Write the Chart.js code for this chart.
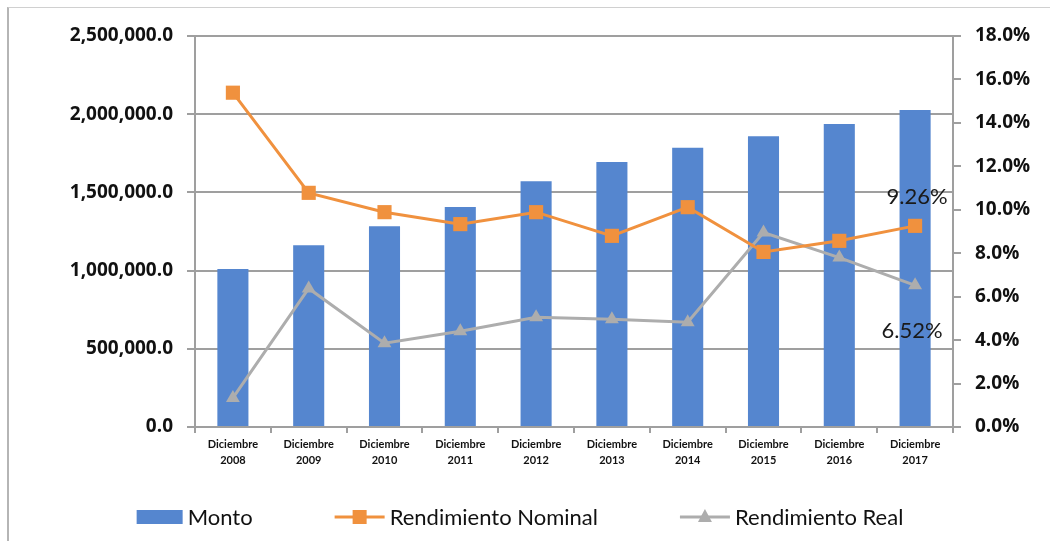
<!DOCTYPE html>
<html lang="es">
  <head>
    <meta charset="UTF-8" />
    <title>Monto y Rendimiento</title>
    <style>
      html, body {
        margin: 0;
        padding: 0;
        background: #fff;
      }
      #wrap {
        position: relative;
        width: 1050px;
        height: 541px;
      }
      #frame {
        position: absolute;
        left: 7px;
        top: 7px;
        width: 1060px;
        height: 560px;
        border-left: 2px solid #b5b5b5;
        border-top: 1.5px solid #d0d0d0;
        pointer-events: none;
      }
      canvas {
        position: absolute;
        left: 0;
        top: 0;
      }
    </style>
  </head>
  <body>
    <div id="wrap">
      <canvas id="chart" width="1050" height="541"></canvas>
      <div id="frame"></div>
    </div>

    <script src="https://cdn.jsdelivr.net/npm/chart.js"></script>
    <script>
      const categories = [
        ["Diciembre", "2008"], ["Diciembre", "2009"], ["Diciembre", "2010"],
        ["Diciembre", "2011"], ["Diciembre", "2012"], ["Diciembre", "2013"],
        ["Diciembre", "2014"], ["Diciembre", "2015"], ["Diciembre", "2016"],
        ["Diciembre", "2017"],
      ];
      const monto = [1010000, 1162000, 1283000, 1406000, 1571000, 1694000, 1785000, 1859000, 1938000, 2027000];
      const nominal = [15.39, 10.78, 9.89, 9.34, 9.89, 8.8, 10.12, 8.06, 8.57, 9.26];
      const real = [1.34, 6.38, 3.86, 4.41, 5.05, 4.96, 4.82, 8.95, 7.8, 6.52];
      const leftTicks = [0, 500000, 1000000, 1500000, 2000000, 2500000];
      const rightTicks = [0, 2, 4, 6, 8, 10, 12, 14, 16, 18];

      const BLUE = "#5586cf";
      const ORANGE = "#f0913e";
      const GRAY = "#adadad";
      const AXIS = "#9f9f9f";
      const FONT = "Lato, 'Open Sans', sans-serif";
      const TICKFONT = "'Open Sans', Lato, sans-serif";

      // labels on last points (9.26% / 6.52%)
      const endLabels = {
        id: "endLabels",
        afterDatasetsDraw(chart) {
          const ctx = chart.ctx;
          ctx.save();
          ctx.font = "22px " + FONT;
          ctx.fillStyle = "#1a1a1a";
          ctx.textAlign = "center";
          ctx.textBaseline = "middle";
          const n = chart.data.labels.length - 1;
          const pn = chart.getDatasetMeta(1).data[n];
          const pr = chart.getDatasetMeta(2).data[n];
          ctx.fillText(nominal[n].toFixed(2) + "%", pn.x + 2, pn.y - 29);
          ctx.fillText(real[n].toFixed(2) + "%", pr.x - 3, pr.y + 46);
          ctx.restore();
        },
      };

      // legend drawn by hand so spacing looks like the excel one
      const bottomLegend = {
        id: "bottomLegend",
        afterDraw(chart) {
          const ctx = chart.ctx;
          ctx.save();
          ctx.font = "22px " + FONT;
          const y = 517;
          const gap = 82;
          const items = chart.data.datasets.map((ds) => ({
            ds,
            sw: ds.type === "bar" ? 46 : 50,
            tw: ctx.measureText(ds.label).width,
          }));
          let total = 0;
          items.forEach((it, i) => {
            total += it.sw + 5 + it.tw + (i > 0 ? gap : 0);
          });
          let x = 520 - total / 2;
          items.forEach((it) => {
            const ds = it.ds;
            if (ds.type === "bar") {
              ctx.fillStyle = ds.backgroundColor;
              ctx.fillRect(x, y - 7, it.sw, 14);
            } else {
              ctx.strokeStyle = ds.borderColor;
              ctx.lineWidth = 3;
              ctx.beginPath();
              ctx.moveTo(x, y);
              ctx.lineTo(x + it.sw, y);
              ctx.stroke();
              ctx.fillStyle = ds.pointBackgroundColor;
              const cx = x + it.sw / 2;
              if (ds.pointStyle === "rect") {
                ctx.fillRect(cx - 7, y - 7, 14, 14);
              } else {
                ctx.beginPath();
                ctx.moveTo(cx, y - 8);
                ctx.lineTo(cx + 7, y + 5);
                ctx.lineTo(cx - 7, y + 5);
                ctx.closePath();
                ctx.fill();
              }
            }
            ctx.fillStyle = "#111";
            ctx.textBaseline = "middle";
            ctx.textAlign = "left";
            ctx.fillText(ds.label, x + it.sw + 5, y + 1);
            x += it.sw + 5 + it.tw + gap;
          });
          ctx.restore();
        },
      };

      const ctx = document.getElementById("chart").getContext("2d");
      const chart = new Chart(ctx, {
        data: {
          labels: categories,
          datasets: [
            {
              type: "bar",
              label: "Monto",
              data: monto,
              yAxisID: "y",
              backgroundColor: BLUE,
              barPercentage: 0.41,
              categoryPercentage: 1,
              order: 3,
            },
            {
              type: "line",
              label: "Rendimiento Nominal",
              data: nominal,
              yAxisID: "y1",
              borderColor: ORANGE,
              borderWidth: 3,
              pointStyle: "rect",
              pointRadius: 10,
              pointBackgroundColor: ORANGE,
              pointBorderColor: ORANGE,
              pointBorderWidth: 0,
              tension: 0,
              order: 1,
            },
            {
              type: "line",
              label: "Rendimiento Real",
              data: real,
              yAxisID: "y1",
              borderColor: GRAY,
              borderWidth: 3,
              pointStyle: "triangle",
              pointRadius: 8,
              pointBackgroundColor: GRAY,
              pointBorderColor: GRAY,
              pointBorderWidth: 0,
              tension: 0,
              order: 2,
            },
          ],
        },
        options: {
          responsive: false,
          animation: false,
          layout: { padding: { top: 36, left: 0, right: 0, bottom: 0 } },
          plugins: {
            legend: { display: false },
            tooltip: { enabled: false },
          },
          scales: {
            x: {
              offset: true,
              grid: {
                offset: true,
                drawOnChartArea: false,
                color: AXIS,
                lineWidth: 2,
                tickLength: 6,
              },
              border: { color: AXIS, width: 2 },
              ticks: {
                color: "#111",
                font: { family: FONT, size: 11, weight: "bold", lineHeight: 1.5 },
                padding: 3,
                maxRotation: 0,
                autoSkip: false,
              },
              afterFit: (s) => {
                s.height = 114;
              },
            },
            y: {
              position: "left",
              min: leftTicks[0],
              max: leftTicks[leftTicks.length - 1],
              afterBuildTicks: (s) => {
                s.ticks = leftTicks.map((v) => ({ value: v }));
              },
              grid: { color: AXIS, lineWidth: 2, tickLength: 8 },
              border: { color: AXIS, width: 2 },
              ticks: {
                color: "#111",
                font: { family: TICKFONT, size: 19, weight: "bold" },
                padding: 14,
                callback: (v) =>
                  Number(v).toLocaleString("en-US", { minimumFractionDigits: 1, maximumFractionDigits: 1 }),
              },
              afterFit: (s) => {
                s.width = 195;
              },
            },
            y1: {
              position: "right",
              min: rightTicks[0],
              max: rightTicks[rightTicks.length - 1],
              afterBuildTicks: (s) => {
                s.ticks = rightTicks.map((v) => ({ value: v }));
              },
              grid: { drawOnChartArea: false, color: AXIS, lineWidth: 2, tickLength: 8 },
              border: { color: AXIS, width: 2 },
              ticks: {
                color: "#111",
                font: { family: TICKFONT, size: 19, weight: "bold" },
                padding: 14,
                callback: (v) => Number(v).toFixed(1) + "%",
              },
              afterFit: (s) => {
                s.width = 97;
              },
            },
          },
        },
        plugins: [endLabels, bottomLegend],
      });
    </script>
  </body>
</html>
